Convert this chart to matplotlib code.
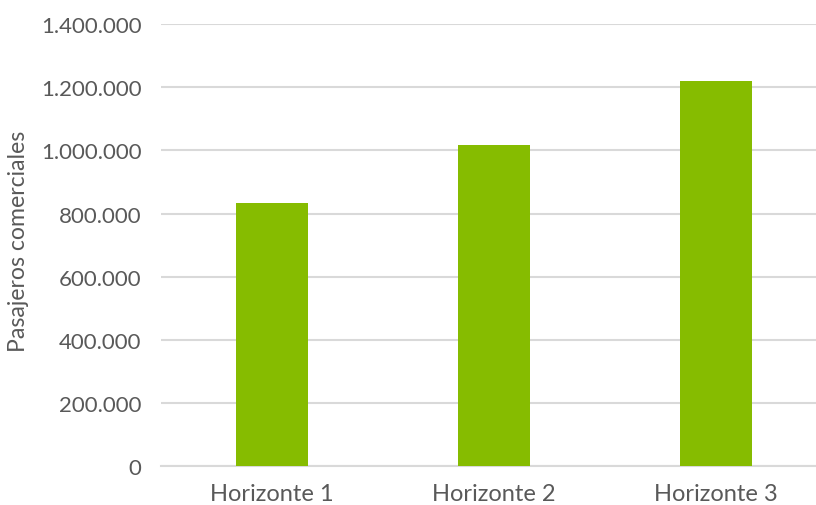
import matplotlib.pyplot as plt
from matplotlib.ticker import FuncFormatter

horizontes = ['Horizonte 1', 'Horizonte 2', 'Horizonte 3']
pasajeros = [834000, 1017000, 1221000]
y_ticks = [0, 200000, 400000, 600000, 800000, 1000000, 1200000, 1400000]

plt.rcParams['font.family'] = ['Lato', 'DejaVu Sans']
text_col = '#595959'

fig = plt.figure(figsize=(8.16, 5.06), dpi=100)
ax = fig.add_axes([0.1973, 0.0765, 0.8162, 0.8741])

x = range(len(horizontes))
ax.bar(x, pasajeros, width=0.324, color='#86BC00', zorder=3)

ax.set_xlim(-0.5, 2.5)
ax.set_ylim(0, 1400000)
ax.set_yticks(y_ticks)
# miles con punto
ax.yaxis.set_major_formatter(FuncFormatter(lambda v, p: f'{int(v):,}'.replace(',', '.')))
ax.set_xticks(list(x))
ax.set_xticklabels(horizontes)

ax.grid(axis='y', color='#D9D9D9', linewidth=1.5, zorder=0)
for s in ['top', 'right', 'left']:
    ax.spines[s].set_visible(False)
ax.spines['bottom'].set_color('#D9D9D9')
ax.spines['bottom'].set_linewidth(1.5)

ax.tick_params(axis='both', length=0, labelcolor=text_col)
ax.tick_params(axis='y', pad=14, labelsize=16)
ax.tick_params(axis='x', pad=12, labelsize=17)
ax.set_ylabel('Pasajeros comerciales', fontsize=16.6, color=text_col)
ax.yaxis.set_label_coords(-0.198, 0.51)

fig.savefig('out.png', dpi=100)
